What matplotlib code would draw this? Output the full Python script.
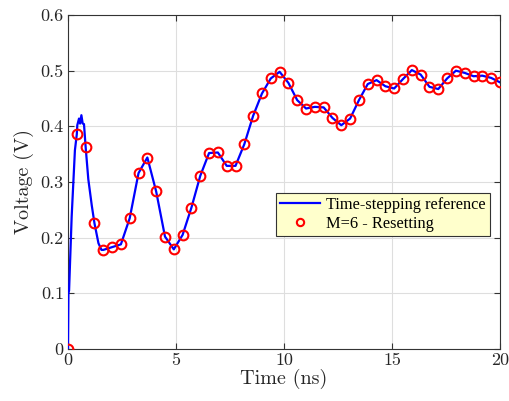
import numpy as np
import matplotlib
matplotlib.use("Agg")
import matplotlib.pyplot as plt

plt.rcParams['font.family'] = ['cmr10', 'DejaVu Serif']
plt.rcParams['axes.formatter.use_mathtext'] = True

# Marker series (M=6 - Resetting): 50 samples, 0..20 ns
t_markers = np.linspace(0, 20, 50)
v_markers = [0.000, 0.386, 0.363, 0.226, 0.178, 0.183, 0.188, 0.235, 0.316, 0.344,
             0.283, 0.202, 0.179, 0.205, 0.254, 0.311, 0.352, 0.353, 0.329, 0.329,
             0.368, 0.419, 0.459, 0.486, 0.498, 0.478, 0.447, 0.432, 0.435, 0.434,
             0.415, 0.402, 0.414, 0.447, 0.476, 0.483, 0.472, 0.468, 0.485, 0.501,
             0.493, 0.471, 0.467, 0.486, 0.500, 0.496, 0.490, 0.491, 0.487, 0.479]

# Reference line: extra points read near the fast initial transient
t_extra = [0.02, 0.05, 0.09, 0.17, 0.32, 0.43, 0.51, 0.56, 0.62, 0.68, 0.74, 0.94, 1.10, 1.41, 1.55]
v_extra = [0.100, 0.105, 0.150, 0.238, 0.357, 0.402, 0.414, 0.405, 0.420, 0.405, 0.404, 0.305, 0.258, 0.190, 0.178]

t_ref = np.concatenate([t_markers, t_extra])
v_ref = np.concatenate([v_markers, v_extra])
order = np.argsort(t_ref)
t_ref = t_ref[order]
v_ref = v_ref[order]

fig = plt.figure(figsize=(5.09, 4.01), dpi=100)
ax = fig.add_axes([68/509, 1-349/401, 432/509, 334/401])

ax.plot(t_ref, v_ref, color='#0000FF', lw=1.6, label='Time-stepping reference', zorder=3)
ax.plot(t_markers, v_markers, 'o', mfc='none', mec='#FF0000', mew=1.5, ms=7,
        label='M=6 - Resetting', zorder=4)

ax.set_xlim(0, 20)
ax.set_ylim(0, 0.6)
ax.set_xticks([0, 5, 10, 15, 20])
ax.set_yticks([0, 0.1, 0.2, 0.3, 0.4, 0.5, 0.6])
ax.set_xticklabels(['0', '5', '10', '15', '20'])
ax.set_yticklabels(['0', '0.1', '0.2', '0.3', '0.4', '0.5', '0.6'])
ax.grid(True, color='#dedede', lw=0.8)
ax.set_axisbelow(True)
ax.tick_params(direction='in', top=True, right=True, labelsize=13,
               color='#333333', labelcolor='#262626', length=4, pad=3)
for s in ax.spines.values():
    s.set_color('#333333')
    s.set_linewidth(0.8)

ax.set_xlabel('Time (ns)', fontsize=14.5, labelpad=0, color='#262626')
ax.set_ylabel('Voltage (V)', fontsize=14.5, labelpad=5, color='#262626')

leg = ax.legend(loc='upper right', bbox_to_anchor=(0.977, 0.467),
                prop={'family': ['Liberation Serif', 'DejaVu Serif'], 'size': 11.8},
                frameon=True, fancybox=False, framealpha=1, borderpad=0.25,
                handlelength=2.4, handletextpad=0.4, labelspacing=0.15,
                borderaxespad=0, markerscale=0.75)
leg.get_frame().set_facecolor('#FFFFCC')
leg.get_frame().set_edgecolor('#333333')
leg.get_frame().set_linewidth(0.8)

fig.savefig('out.png', dpi=100)
